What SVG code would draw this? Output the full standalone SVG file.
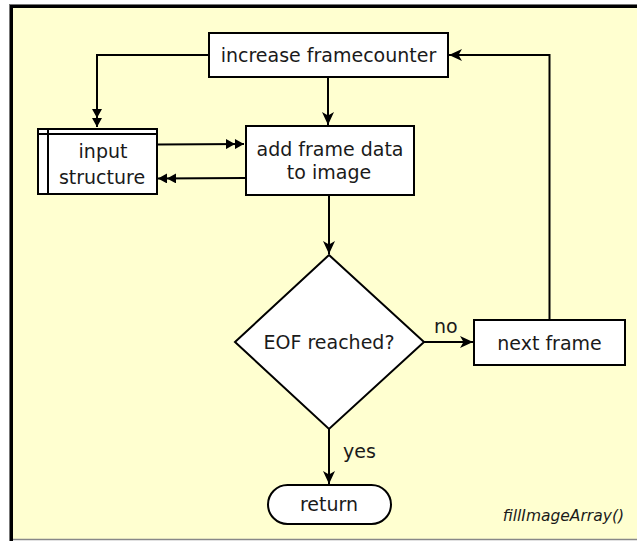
<svg xmlns="http://www.w3.org/2000/svg" width="637" height="541" viewBox="0 0 637 541">
<style>
.box{fill:#ffffff;stroke:#000;stroke-width:2}
.t{font-family:"DejaVu Sans",sans-serif;font-size:19px;fill:#1a1a1a;text-anchor:middle}
.lbl{font-family:"DejaVu Sans",sans-serif;font-size:19px;fill:#1a1a1a}
.c{fill:none;stroke:#000;stroke-width:2}
</style>
<defs>
<marker id="arr" markerUnits="userSpaceOnUse" markerWidth="13" markerHeight="12" viewBox="0 0 13 12" refX="13" refY="6" orient="auto">
<path d="M0,0 L13,6 L0,12 L3.5,6 z" fill="#000"/>
</marker>
<marker id="dbl" markerUnits="userSpaceOnUse" markerWidth="18" markerHeight="10" viewBox="0 0 18 10" refX="18" refY="5" orient="auto">
<path d="M0,0 L9,5 L0,10 z M9,0 L18,5 L9,10 z" fill="#000"/>
</marker>
</defs>
<rect x="0" y="0" width="637" height="541" fill="#ffffff"/>
<rect x="11" y="5" width="640" height="534" fill="#ffffd0"/>
<line x1="9.5" y1="4" x2="9.5" y2="541" stroke="#777" stroke-width="1"/>
<line x1="9" y1="4.5" x2="637" y2="4.5" stroke="#777" stroke-width="1"/>
<line x1="11.5" y1="5" x2="11.5" y2="541" stroke="#000" stroke-width="3"/>
<line x1="10" y1="6.5" x2="637" y2="6.5" stroke="#000" stroke-width="3"/>
<line x1="13" y1="539.5" x2="637" y2="539.5" stroke="#888" stroke-width="1.5"/>

<g id="connectors">
<path class="c" d="M209,55 H97 V127" marker-end="url(#dbl)"/>
<path class="c" d="M328,77 V125" marker-end="url(#arr)"/>
<path class="c" d="M158,144.5 L244,144" marker-end="url(#dbl)"/>
<path class="c" d="M245,178 L158,178.5" marker-end="url(#dbl)"/>
<path class="c" d="M329,196 V254" marker-end="url(#arr)"/>
<path class="c" d="M424,342 H473" marker-end="url(#arr)"/>
<path class="c" d="M549.5,320 V55 H449" marker-end="url(#arr)"/>
<path class="c" d="M329,429 V484" marker-end="url(#arr)"/>
<text class="lbl" x="434" y="333">no</text>
<text class="lbl" x="343" y="458">yes</text>
</g>

<g id="increase">
<rect class="box" x="209" y="33" width="239" height="44"/>
<text class="t" x="328.5" y="61.5">increase framecounter</text>
</g>
<g id="input">
<rect class="box" x="38" y="129" width="119" height="65"/>
<line x1="48" y1="129" x2="48" y2="194" stroke="#000" stroke-width="2"/>
<line x1="38" y1="134" x2="157" y2="134" stroke="#000" stroke-width="2"/>
<text class="t" x="103" y="158">input</text>
<text class="t" x="102" y="184">structure</text>
</g>
<g id="addframe">
<rect class="box" x="246" y="126" width="168" height="69"/>
<text class="t" x="330" y="156">add frame data</text>
<text class="t" x="329" y="179">to image</text>
</g>
<g id="eof">
<path class="box" d="M329,255 L424,342 L329,429 L235,342 z"/>
<text class="t" x="329" y="348.5">EOF reached?</text>
</g>
<g id="next">
<rect class="box" x="474" y="320" width="151" height="45"/>
<text class="t" x="549.5" y="349.5">next frame</text>
</g>
<g id="return">
<rect class="box" x="268" y="485" width="123" height="39" rx="19.5" ry="19.5"/>
<text class="t" x="329" y="511">return</text>
</g>
<text x="624" y="521" font-family="DejaVu Sans, sans-serif" font-size="15.5" font-style="italic" fill="#1a1a1a" text-anchor="end">fillImageArray()</text>
</svg>
